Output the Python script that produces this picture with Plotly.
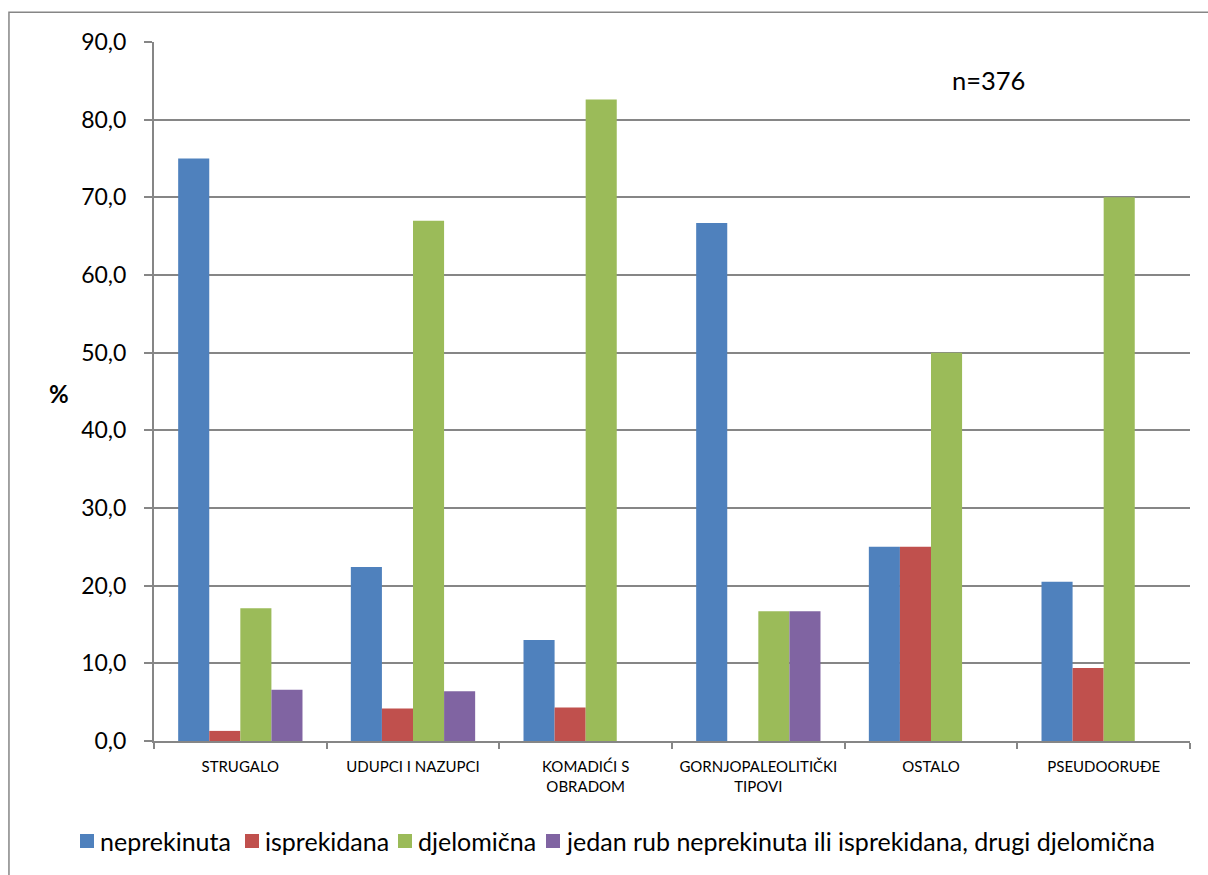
import plotly.graph_objects as go

# Tool categories along the x axis
categories = [
    "STRUGALO",
    "UDUPCI I NAZUPCI",
    "KOMADIĆI S<br>OBRADOM",
    "GORNJOPALEOLITIČKI<br>TIPOVI",
    "OSTALO",
    "PSEUDOORUĐE",
]

# Percentages per retouch type (None = no bar)
neprekinuta = [75.0, 22.4, 13.0, 66.7, 25.0, 20.5]
isprekidana = [1.3, 4.2, 4.3, None, 25.0, 9.4]
djelomicna = [17.1, 67.0, 82.6, 16.7, 50.0, 70.0]
jedan_rub = [6.6, 6.4, None, 16.7, None, None]

series_names = [
    "neprekinuta",
    "isprekidana",
    "djelomična",
    "jedan rub neprekinuta ili isprekidana, drugi djelomična",
]
series_values = [neprekinuta, isprekidana, djelomicna, jedan_rub]
series_colors = ["#4F81BD", "#C0504D", "#9BBB59", "#8064A2"]

y_ticks = [0, 10, 20, 30, 40, 50, 60, 70, 80, 90]

FONT = "Lato, Carlito, Calibri, sans-serif"

# plot-area geometry in pixels, used to place the hand-drawn legend
W, H = 1208, 875
ML, MR, MT, MB = 154, 18, 42, 134
PW, PH = W - ML - MR, H - MT - MB


def px_x(x):
    return (x - ML) / PW


def px_y(y):
    return 1 - (y - MT) / PH


fig = go.Figure()
for name, vals, color in zip(series_names, series_values, series_colors):
    fig.add_trace(go.Bar(
        name=name,
        x=categories,
        y=vals,
        marker=dict(color=color, line=dict(width=0)),
        showlegend=False,
    ))

# legend row: colour square followed by its label
legend_left = [80, 245, 398, 546]
shapes = [
    dict(
        type="rect", xref="paper", yref="paper",
        x0=-0.14, x1=1.2, y0=-0.4, y1=1.0425,
        line=dict(color="#868686", width=1.5),
        fillcolor="rgba(0,0,0,0)",
        layer="below",
    )
]
annotations = []
for x0, name, color in zip(legend_left, series_names, series_colors):
    shapes.append(dict(
        type="rect", xref="paper", yref="paper",
        x0=px_x(x0), x1=px_x(x0 + 14), y0=px_y(848), y1=px_y(834),
        line=dict(width=0), fillcolor=color,
    ))
    annotations.append(dict(
        text=name, xref="paper", yref="paper",
        x=px_x(x0 + 18), y=px_y(841), xanchor="left", yanchor="middle",
        showarrow=False, font=dict(size=25, family=FONT),
    ))

annotations += [
    dict(
        text="<b>%</b>", xref="paper", yref="paper",
        x=px_x(59), y=px_y(393), xanchor="center", yanchor="middle",
        showarrow=False, font=dict(size=24, family=FONT),
    ),
    dict(
        text="n=376", xref="paper", yref="paper",
        x=px_x(988), y=px_y(80), xanchor="center", yanchor="middle",
        showarrow=False, font=dict(size=25.5, family=FONT),
    ),
]

fig.update_layout(
    width=W,
    height=H,
    barmode="group",
    bargap=0.28,
    bargroupgap=0,
    separators=", ",
    paper_bgcolor="white",
    plot_bgcolor="white",
    margin=dict(l=ML, r=MR, t=MT, b=MB),
    font=dict(family=FONT, color="#000000"),
    showlegend=False,
    xaxis=dict(
        type="category",
        tickson="boundaries",
        ticks="outside",
        ticklen=6,
        tickcolor="#868686",
        tickwidth=1.5,
        showline=True,
        linecolor="#868686",
        linewidth=2,
        tickfont=dict(size=15, family=FONT),
        ticklabelstandoff=11,
        showgrid=False,
    ),
    yaxis=dict(
        range=[0, 90],
        tickvals=y_ticks,
        tickformat=".1f",
        ticks="outside",
        ticklen=8,
        tickcolor="#868686",
        tickwidth=1.5,
        showline=True,
        linecolor="#868686",
        linewidth=2,
        showgrid=True,
        gridcolor="#868686",
        gridwidth=1.5,
        zeroline=False,
        tickfont=dict(size=23, family=FONT),
        ticklabelstandoff=13,
    ),
    shapes=shapes,
    annotations=annotations,
)

fig.write_html("out.html")
